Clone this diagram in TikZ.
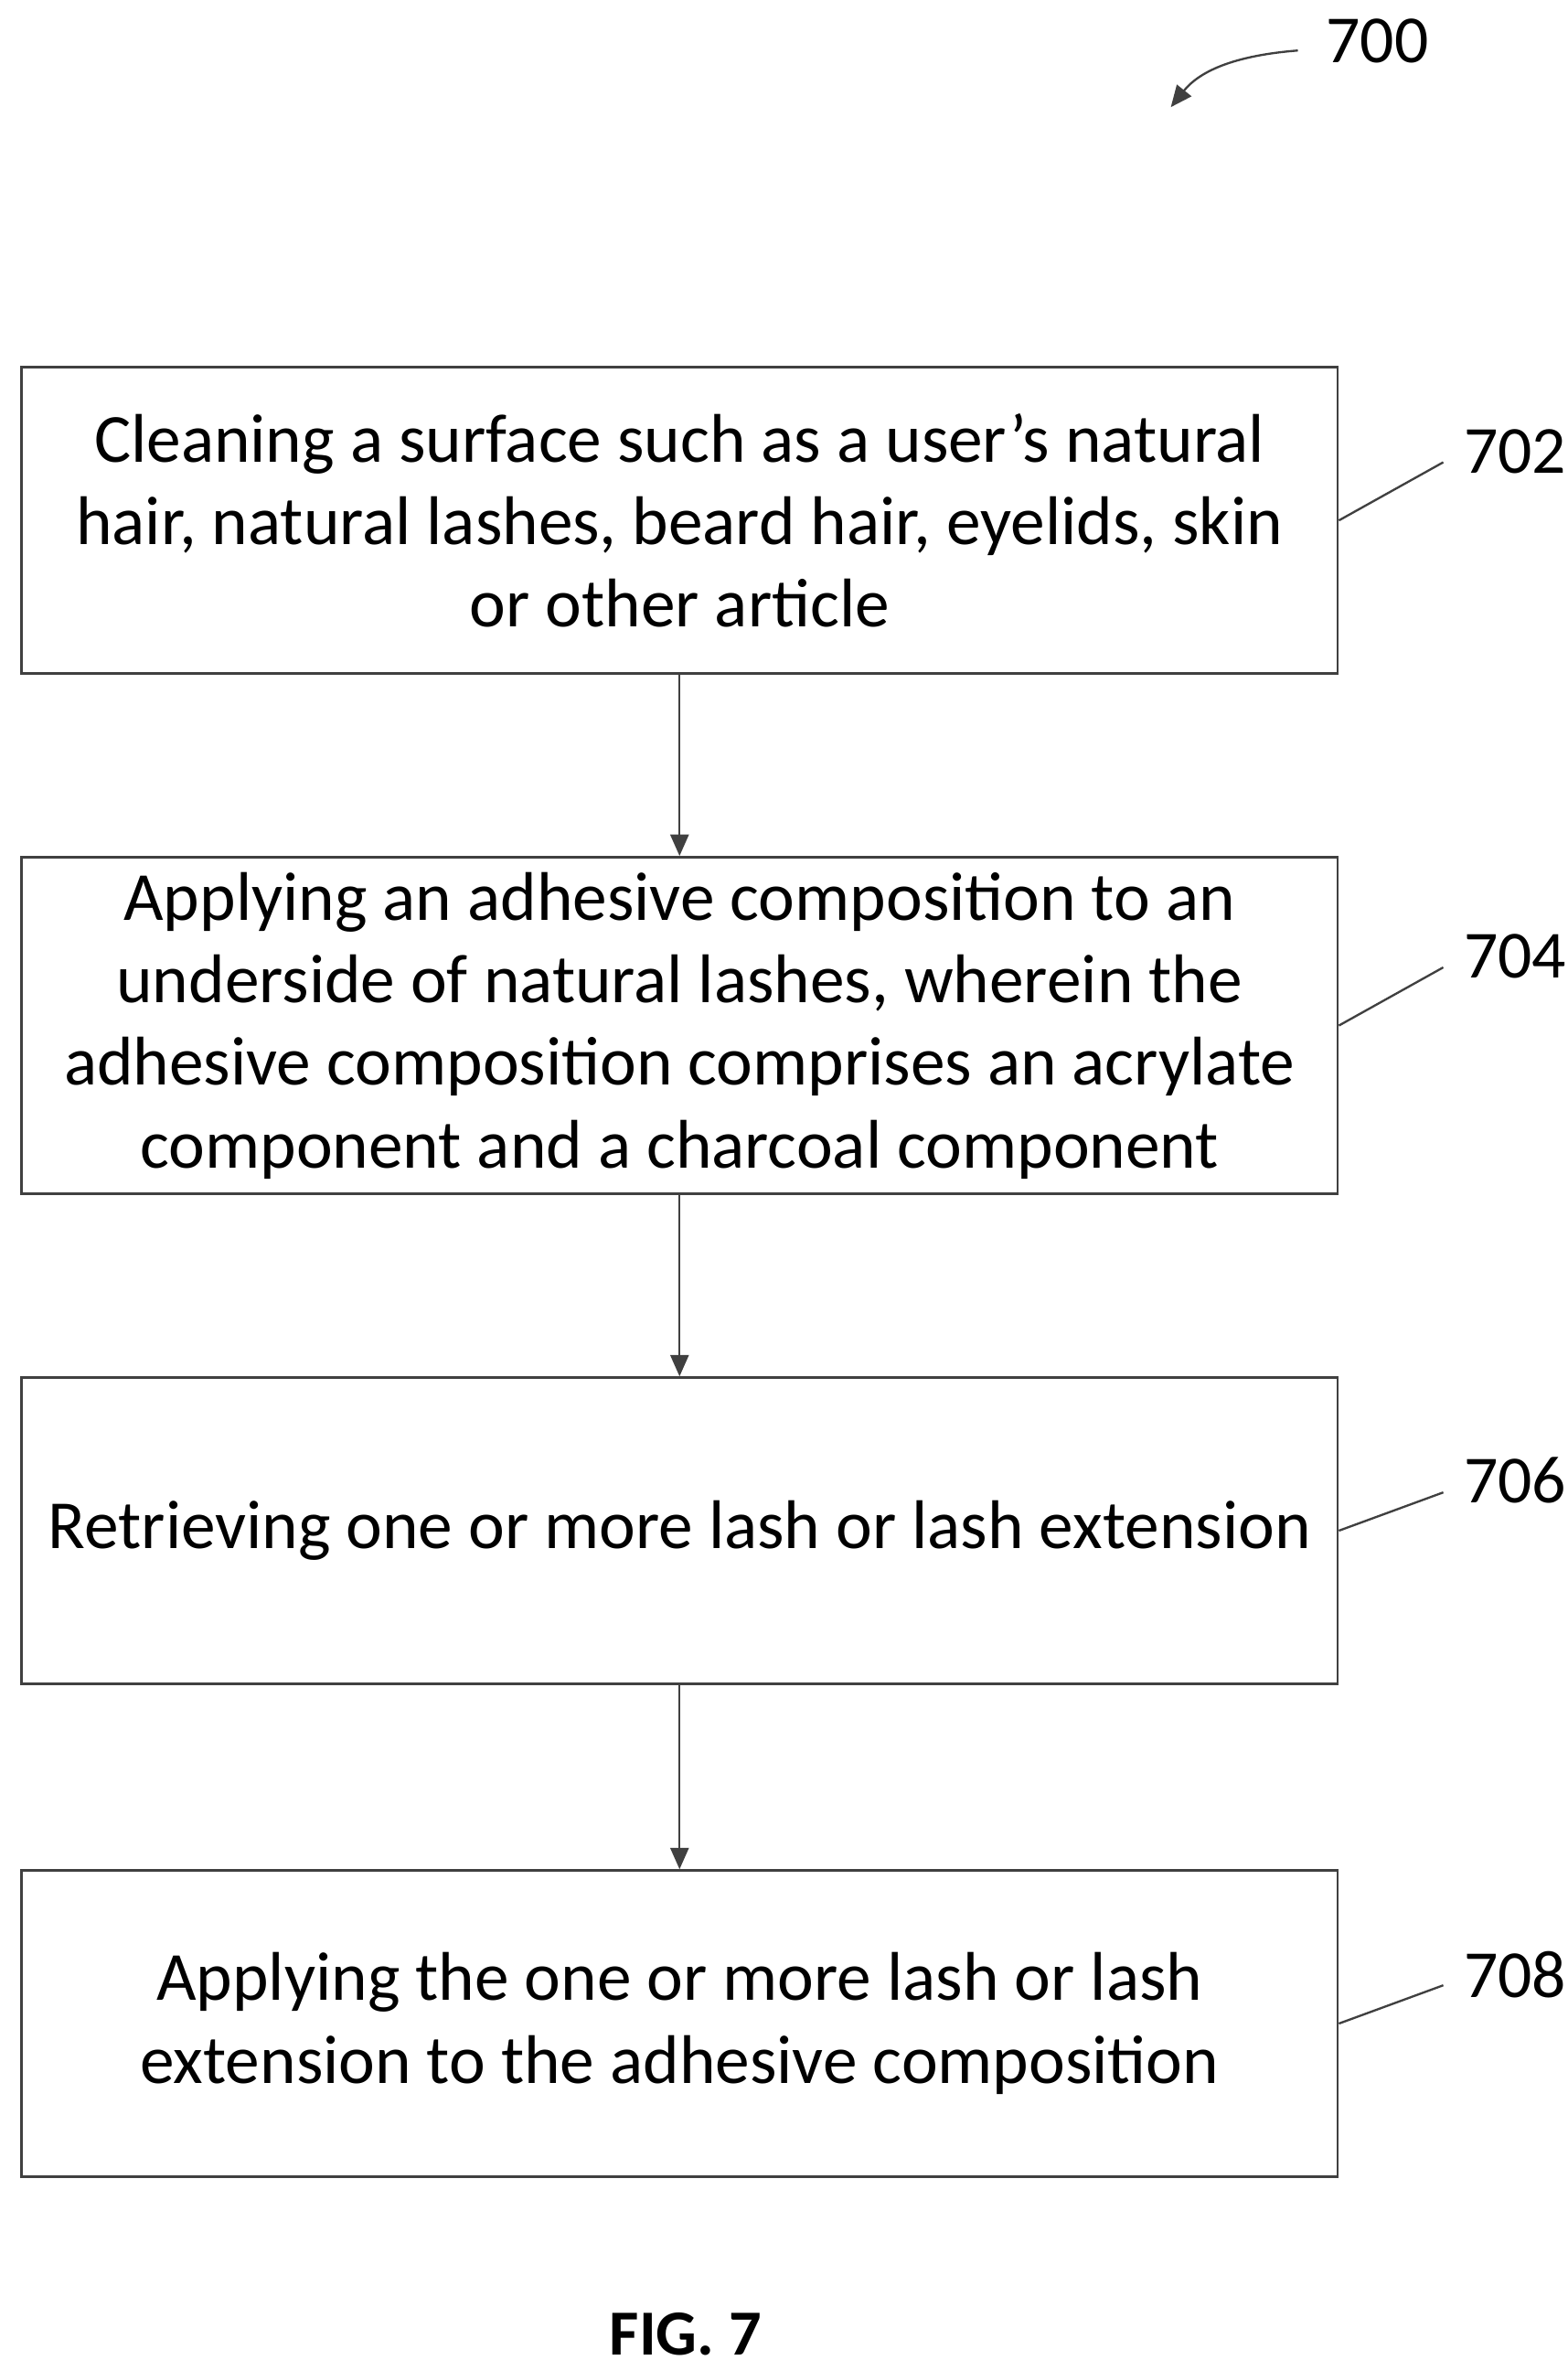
\documentclass[tikz,border=0pt]{standalone}
\usepackage{fontspec}
\setmainfont{Carlito}
\usetikzlibrary{arrows.meta}
\begin{document}
\begin{tikzpicture}[x=1pt,y=-1pt,
  box/.style={draw=black!75,line width=1.6pt,minimum width=860pt,align=center,inner sep=0pt,font=\fontsize{45}{54}\selectfont},
  lab/.style={font=\fontsize{44}{50}\selectfont},
  lead/.style={draw=black!75,line width=1.4pt},
  arr/.style={draw=black!75,line width=1.4pt,-{Triangle[length=14pt,width=12pt]}}]
\useasboundingbox (0,0) rectangle (1024,1549);
\node[box,minimum height=200pt] (b1) at (444,340) {Cleaning a surface such as a user’s natural\\hair, natural lashes, beard hair, eyelids, skin\\or other article};
\node[box,minimum height=220pt] (b2) at (444,670) {Applying an adhesive composition to an\\underside of natural lashes, wherein the\\adhesive composition comprises an acrylate\\component and a charcoal component};
\node[box,minimum height=200pt] (b3) at (444,1000) {Retrieving one or more lash or lash extension};
\node[box,minimum height=200pt] (b4) at (444,1322) {Applying the one or more lash or lash\\extension to the adhesive composition};
\draw[arr] (b1.south) -- (b2.north);
\draw[arr] (b2.south) -- (b3.north);
\draw[arr] (b3.south) -- (b4.north);
\node[lab] (l2) at (990,295) {702};
\node[lab] (l4) at (990,625) {704};
\node[lab] (l6) at (990,967) {706};
\node[lab] (l8) at (990,1290) {708};
\node[lab] (l0) at (900,27) {700};
\coordinate (c2) at (943,302);
\coordinate (c4) at (943,632);
\coordinate (c6) at (943,975);
\coordinate (c8) at (943,1297);
\draw[lead] (b1.east) -- (c2);
\draw[lead] (b2.east) -- (c4);
\draw[lead] (b3.east) -- (c6);
\draw[lead] (b4.east) -- (c8);
\coordinate (c0) at (848,33);
\coordinate (t0) at (765,70);
\draw[arr] (c0) .. controls (810,36) and (785,45) .. (t0);
\node[font=\bfseries\fontsize{42}{48}\selectfont] (fig) at (448,1525) {FIG. 7};
\end{tikzpicture}
\end{document}
